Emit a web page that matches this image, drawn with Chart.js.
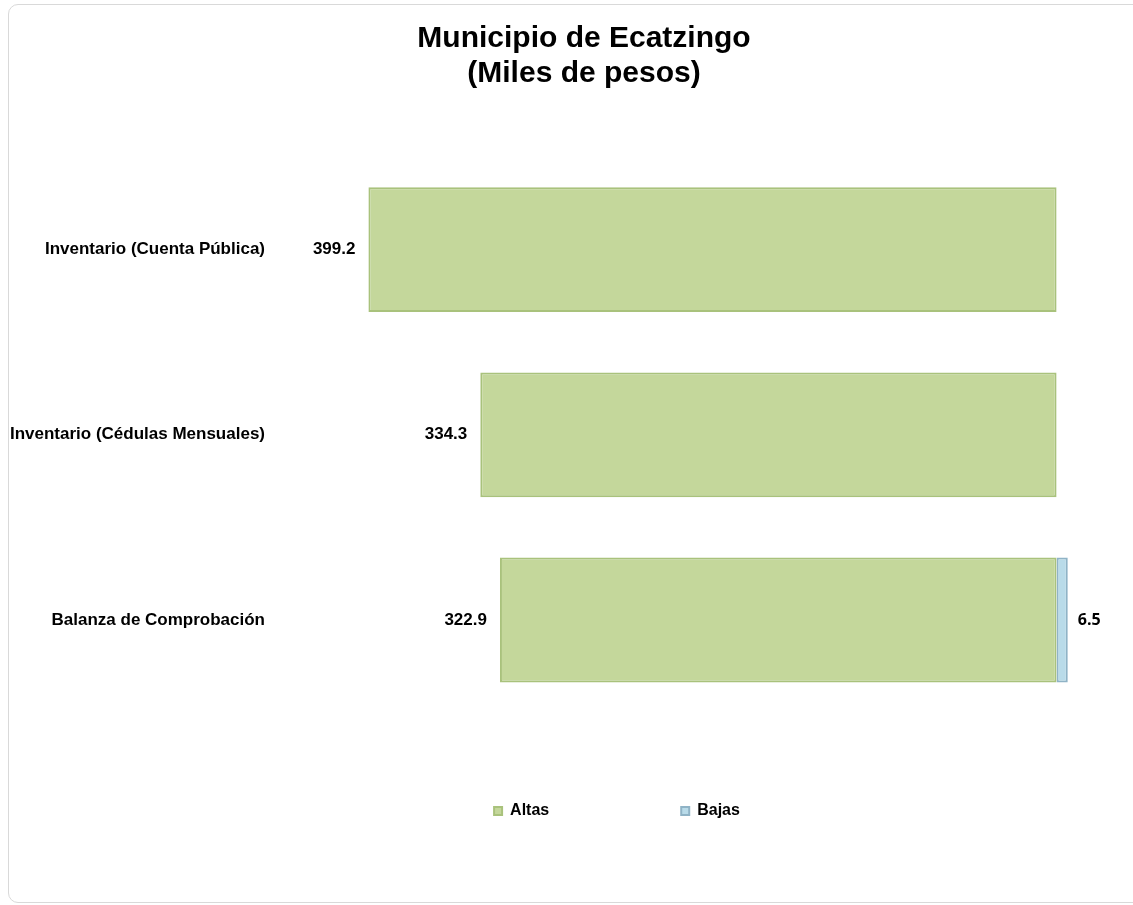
<!DOCTYPE html>
<html>
<head>
<meta charset="utf-8">
<script src="https://cdn.jsdelivr.net/npm/chart.js@4/dist/chart.umd.min.js"></script>
<style>
  html, body { margin: 0; padding: 0; background: #fff; overflow: hidden; }
  #frame { position: absolute; left: 8px; top: 4px; width: 1200px; height: 897px;
           border: 1px solid #d9d9d9; border-radius: 10px; }
  #wrap { position: absolute; left: 0; top: 0; width: 1160px; height: 905px; }
</style>
</head>
<body>
<div id="frame"></div>
<div id="wrap"><canvas id="chart"></canvas></div>
<script>
// data
const categories = ['Inventario (Cuenta Pública)', 'Inventario (Cédulas Mensuales)', 'Balanza de Comprobación'];
const altasValues = [399.2, 334.3, 322.9];
const bajasValues = [0, 0, 6.5];
const seriesNames = ['Altas', 'Bajas'];
const titleLines = ['Municipio de Ecatzingo', '(Miles de pesos)'];

const labelFont = 'bold 17px Arial';
const chartLeft = 74;       // chart area left edge
const labelRight = 265;     // right edge of category labels

// widest category label, used to place the mirrored tick labels
const mctx = document.createElement('canvas').getContext('2d');
mctx.font = labelFont;
const widest = Math.max(...categories.map(c => mctx.measureText(c).width));

// value labels beside each bar
const valueLabels = {
  id: 'valueLabels',
  afterDatasetsDraw(chart) {
    const ctx = chart.ctx;
    ctx.save();
    ctx.textBaseline = 'middle';
    ctx.fillStyle = '#000';
    chart.getDatasetMeta(0).data.forEach((el, i) => {
      ctx.font = labelFont;
      ctx.textAlign = 'right';
      ctx.fillText(altasValues[i].toFixed(1), el.x - 13, el.y);
    });
    chart.getDatasetMeta(1).data.forEach((el, i) => {
      if (!bajasValues[i]) return;
      ctx.font = 'bold 16px "Open Sans"';
      ctx.textAlign = 'left';
      ctx.fillText(bajasValues[i].toFixed(1), el.x + 10, el.y);
    });
    ctx.restore();
  }
};

new Chart(document.getElementById('chart'), {
  type: 'bar',
  data: {
    labels: categories,
    datasets: [
      { label: seriesNames[0], data: altasValues,
        backgroundColor: '#c4d79b', borderColor: '#a9c27c', borderWidth: 2, borderSkipped: false },
      { label: seriesNames[1], data: bajasValues.map(v => v ? -v : null),
        backgroundColor: '#b9dbe9', borderColor: '#8fb3c6', borderWidth: 2, borderSkipped: false }
    ]
  },
  options: {
    indexAxis: 'y',
    responsive: true,
    maintainAspectRatio: false,
    animation: false,
    layout: { padding: { left: 8, right: 0, top: 0, bottom: 76 } },
    datasets: { bar: { barPercentage: 0.674, categoryPercentage: 1 } },
    scales: {
      x: {
        stacked: true, reverse: true, min: -60, max: 570,
        display: false, grid: { display: false }
      },
      y: {
        stacked: true,
        grid: { display: false, drawTicks: false },
        border: { display: false },
        ticks: {
          mirror: true, crossAlign: 'far',
          padding: labelRight - chartLeft - widest,
          color: '#000',
          font: { family: 'Arial', size: 17, weight: 'bold' }
        },
        afterFit(scale) { scale.width = chartLeft - 8; }
      }
    },
    plugins: {
      title: {
        display: true,
        text: titleLines,
        color: '#000',
        font: { family: 'Arial', size: 30, weight: 'bold', lineHeight: 1.167 },
        padding: { top: 21, bottom: 66 }
      },
      legend: {
        position: 'bottom',
        fullSize: false,
        title: { display: true, text: ' ', font: { size: 2 }, padding: { top: -22, bottom: -22 } },
        labels: {
          boxWidth: 8, boxHeight: 8, padding: 132,
          color: '#000',
          font: { family: 'Arial', size: 16, weight: 'bold' }
        }
      },
      tooltip: { enabled: false }
    }
  },
  plugins: [valueLabels]
});
</script>
</body>
</html>
